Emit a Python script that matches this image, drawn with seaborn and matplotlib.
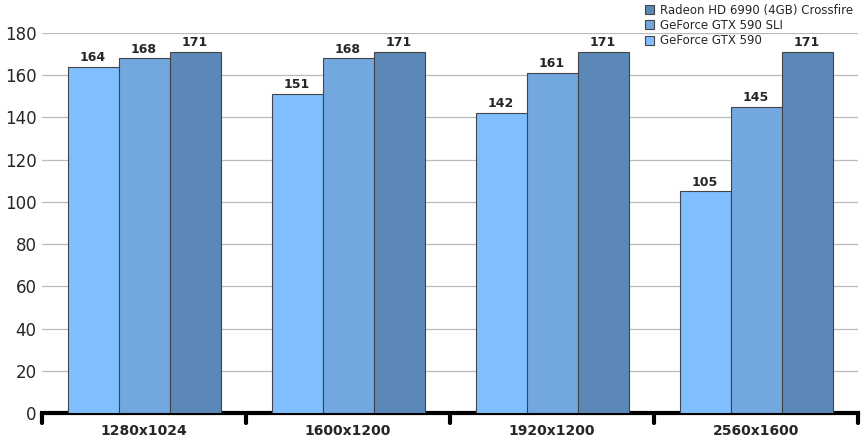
import matplotlib
matplotlib.use("Agg")
import matplotlib.pyplot as plt
import seaborn as sns
import pandas as pd

# --- Data ---
resolutions = ['1280x1024', '1600x1200', '1920x1200', '2560x1600']
series = ['GeForce GTX 590', 'GeForce GTX 590 SLI', 'Radeon HD 6990 (4GB) Crossfire']
gtx590 = [164, 151, 142, 105]
gtx590_sli = [168, 168, 161, 145]
hd6990_cf = [171, 171, 171, 171]
colors = ['#80bfff', '#72a7e0', '#5b88b7']

rows = []
for vals, name in zip([gtx590, gtx590_sli, hd6990_cf], series):
    for r, v in zip(resolutions, vals):
        rows.append({'res': r, 'series': name, 'fps': v})
df = pd.DataFrame(rows)

sns.set_style('white')
fig = plt.figure(figsize=(8.66, 4.46), dpi=100)
ax = fig.add_axes([42 / 866, 33 / 446, 816 / 866, 380 / 446])

sns.barplot(data=df, x='res', y='fps', hue='series', palette=colors,
            width=0.75, edgecolor='#444444', linewidth=0.8, saturation=1, ax=ax, zorder=3)

for cont in ax.containers:
    ax.bar_label(cont, fontsize=9, fontweight='bold', padding=2)

ax.set_ylim(0, 180)
ax.set_xlim(-0.5, 3.5)
ax.set_yticks(range(0, 181, 20))
ax.yaxis.grid(True, color='#bbbbbb', linewidth=0.9, zorder=0)
ax.set_axisbelow(True)
ax.tick_params(axis='y', labelsize=12, length=0, pad=4)
ax.set_xlabel('')
ax.set_ylabel('')
ax.set_xticks([0, 1, 2, 3])
ax.set_xticklabels(resolutions, fontsize=10, fontweight='bold')
ax.tick_params(axis='x', length=0, pad=8)
for x in [-0.5, 0.5, 1.5, 2.5, 3.5]:
    ax.plot([x, x], [0, -0.025], transform=ax.get_xaxis_transform(), color='black',
            linewidth=3, clip_on=False)
for s in ['top', 'right', 'left']:
    ax.spines[s].set_visible(False)
ax.spines['bottom'].set_linewidth(3)
ax.spines['bottom'].set_color('black')

handles, labels = ax.get_legend_handles_labels()
ax.legend(handles[::-1], labels[::-1], loc='upper right', bbox_to_anchor=(1.0, 1.09),
          frameon=False, fontsize=8.5, handlelength=0.8, handleheight=0.8,
          labelspacing=0.2, handletextpad=0.5, borderaxespad=0)

fig.savefig('out.png', dpi=100)
